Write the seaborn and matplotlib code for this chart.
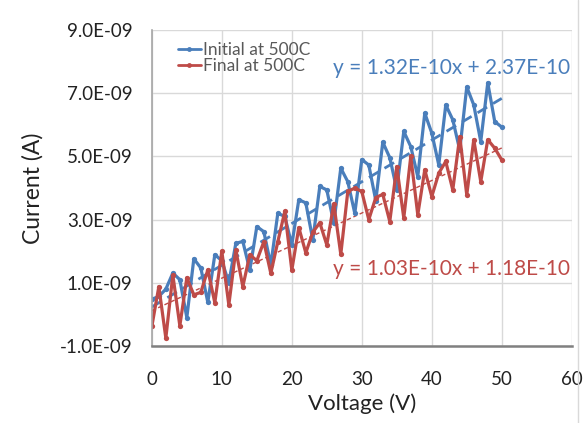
import numpy as np
import pandas as pd
import seaborn as sns
import matplotlib as mpl
import matplotlib.ticker
import matplotlib.pyplot as plt
from matplotlib.lines import Line2D

sns.set_theme(style="white")
plt.rcParams["font.family"] = ["Lato", "DejaVu Sans"]

blue = "#4A7EBB"
red = "#BE4B48"

# bias sweep, 1 V steps
voltage = np.arange(0, 51)

# current in units of 1E-09 A
initial_nA = [
    0.48, 0.57, 0.80, 1.31, 1.10, -0.10, 1.76, 1.47, 0.38, 1.89,
    1.70, 1.00, 2.25, 2.31, 1.40, 2.78, 2.62, 1.57, 3.20, 3.10,
    2.20, 3.63, 3.53, 2.36, 4.05, 3.94, 2.89, 4.63, 4.20, 3.20,
    4.90, 4.73, 3.60, 5.45, 4.96, 3.95, 5.79, 5.31, 4.36, 6.37,
    5.74, 4.73, 6.63, 6.16, 5.20, 7.20, 6.63, 5.47, 7.33, 6.10,
    5.93,
]
final_nA = [
    -0.38, 0.88, -0.75, 1.25, -0.36, 1.16, 0.62, 0.70, 1.41, 0.37,
    2.00, 0.30, 2.04, 0.88, 1.89, 1.70, 2.30, 1.30, 2.30, 3.26,
    1.40, 2.75, 1.95, 2.60, 2.90, 2.20, 3.50, 1.90, 3.89, 4.00,
    3.89, 3.00, 3.70, 3.80, 2.94, 4.68, 3.05, 5.00, 3.15, 4.58,
    3.73, 4.47, 4.84, 3.94, 5.63, 3.78, 5.53, 4.20, 5.53, 5.26,
    4.89,
]

# linear trendlines as printed on the chart
initial_fit = (1.32e-10, 2.37e-10)
final_fit = (1.03e-10, 1.18e-10)

df = pd.DataFrame(
    {
        "Voltage (V)": np.concatenate([voltage, voltage]),
        "Current (A)": np.array(initial_nA + final_nA) * 1e-9,
        "series": ["Initial at 500C"] * len(voltage) + ["Final at 500C"] * len(voltage),
    }
)

fig = plt.figure(figsize=(5.84, 4.23), dpi=100)
ax = fig.add_axes([0.260, 0.182, 0.719, 0.747])

sns.lineplot(
    ax=ax,
    data=df,
    x="Voltage (V)",
    y="Current (A)",
    hue="series",
    palette=[blue, red],
    marker="o",
    markersize=3.8,
    markeredgewidth=0,
    linewidth=2.3,
    legend=False,
)

xfit = np.array([voltage.min(), voltage.max()])
ax.plot(xfit, initial_fit[0] * xfit + initial_fit[1], color=blue, lw=2.0,
        ls=(0, (4, 2.5)), zorder=1)
ax.plot(xfit, final_fit[0] * xfit + final_fit[1], color=red, lw=1.0,
        ls=(0, (3, 2)), zorder=1)

ax.set_xlim(0, 60)
ax.set_ylim(-1e-9, 9e-9)
ax.set_xticks(np.arange(0, 61, 10))
ax.set_yticks(np.arange(-1e-9, 9.1e-9, 2e-9))
ax.yaxis.set_major_formatter(
    matplotlib.ticker.FuncFormatter(lambda v, p: f"{v:.1E}")
)
ax.grid(True, color="#D9D9D9", lw=1.0)
ax.set_axisbelow(True)
for s in ["top", "right"]:
    ax.spines[s].set_visible(False)
ax.spines["left"].set_color("#A6A6A6")
ax.spines["left"].set_linewidth(1.2)
ax.spines["bottom"].set_color("#808080")
ax.spines["bottom"].set_linewidth(1.8)
ax.tick_params(axis="both", labelsize=13.5, colors="#222222", length=0)
ax.tick_params(axis="x", pad=18)
ax.tick_params(axis="y", pad=14)
ax.set_xlabel("Voltage (V)", fontsize=16, color="#222222", labelpad=4)
ax.set_ylabel("Current (A)", fontsize=16.5, color="#222222", labelpad=12)

handles = [
    Line2D([], [], color=blue, lw=2, marker="o", markersize=3.5, markeredgewidth=0),
    Line2D([], [], color=red, lw=2, marker="o", markersize=3.5, markeredgewidth=0),
]
ax.legend(
    handles,
    ["Initial at 500C", "Final at 500C"],
    loc="upper left",
    bbox_to_anchor=(0.025, 1.01),
    frameon=False,
    fontsize=12.5,
    handlelength=1.3,
    handletextpad=0.12,
    labelspacing=0.0,
    labelcolor="#595959",
)

ax.text(0.995, 0.88, "y = 1.32E-10x + 2.37E-10", transform=ax.transAxes,
        ha="right", va="center", fontsize=15, color=blue)
ax.text(0.995, 0.245, "y = 1.03E-10x + 1.18E-10", transform=ax.transAxes,
        ha="right", va="center", fontsize=15, color=red)

fig.add_artist(Line2D([578 / 584] * 2, [0, 1], transform=fig.transFigure,
                      color="#D9D9D9", lw=1.0))

plt.savefig("out.png", dpi=100)
